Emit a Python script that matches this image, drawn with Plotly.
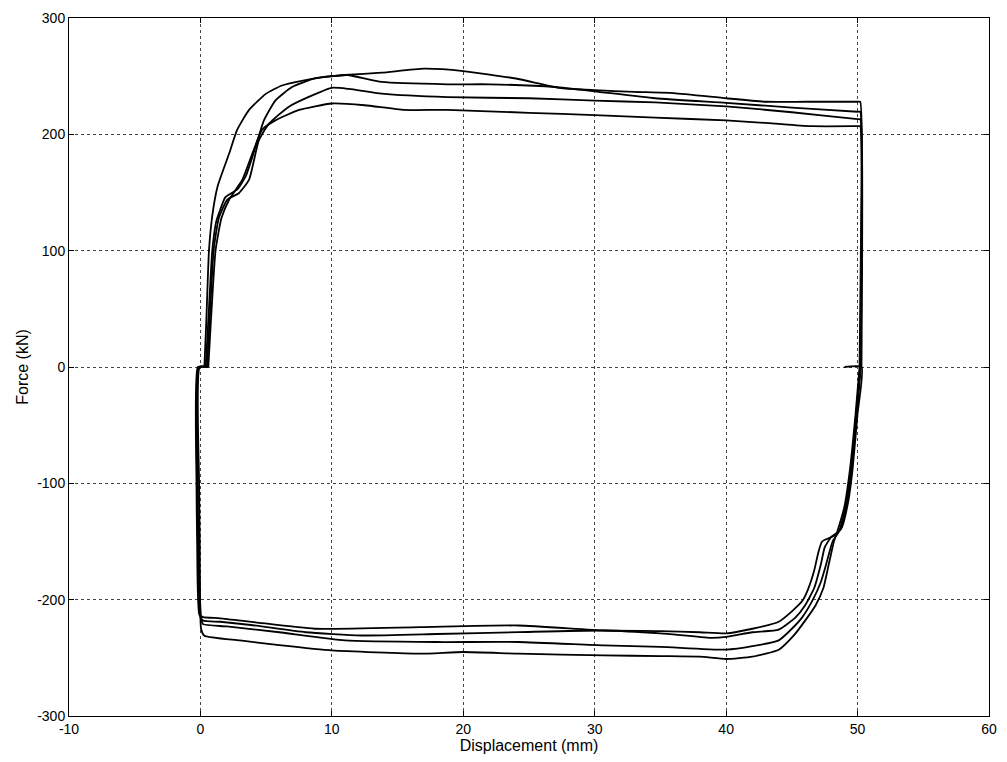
import plotly.graph_objects as go

# Hysteresis loops: four displacement cycles between 0 and 50 mm.
# Loading branches (positive force), ending with the unloading drop at 50 mm.
up1_x = [0.3, 0.45, 0.65, 0.9, 1.3, 2.2, 2.8, 3.7, 5.0, 6.2, 7.7, 9.2, 11.0, 13.8, 17.0, 20.0,
         24.0, 27.3, 30.0, 33.0, 36.0, 40.0, 43.0, 46.0, 50.0, 50.2, 50.35, 50.3]
up1_f = [0, 40, 100, 130, 155, 184, 204, 221, 235, 242, 246, 249, 251, 253, 256.4, 254.4,
         248, 240, 238, 236.5, 235.5, 231, 228, 228, 228, 228, 100, 0]

up2_x = [0.4, 0.6, 0.9, 1.2, 1.5, 1.9, 2.8, 3.45, 4.2, 4.83, 5.7, 6.97, 8.7, 10.0, 11.2, 13.8,
         18.8, 22.0, 27.0, 30.0, 34.6, 40.0, 45.0, 50.0, 50.2, 50.3, 50.25]
up2_f = [0, 40, 100, 125, 135, 146, 152.6, 164, 189.5, 212, 229, 240.7, 248, 250, 251, 245,
         243, 243, 240.7, 237, 231, 227, 223, 219.4, 219.4, 100, 0]

up3_x = [0.5, 0.7, 1.0, 1.4, 2.06, 2.94, 3.7, 4.45, 5.2, 6.7, 8.2, 10.0, 11.3, 13.8, 18.8, 25.0,
         30.0, 34.6, 40.0, 45.0, 50.0, 50.2, 50.3, 50.2]
up3_f = [0, 40, 100, 128, 144, 149.6, 161, 195, 209, 223.6, 232, 240, 239, 235, 232, 231,
         229, 227.4, 224, 219, 213, 213, 100, 0]

up4_x = [0.6, 0.8, 1.15, 1.6, 2.19, 3.19, 4.0, 4.7, 5.7, 7.5, 10.0, 12.5, 15.5, 18.8, 25.0,
         30.0, 34.6, 40.0, 44.0, 46.5, 50.0, 50.2, 50.25, 50.15]
up4_f = [0, 40, 100, 128, 144, 161, 185, 204, 212, 221, 226.5, 225, 221, 221, 218.5,
         216.5, 214.3, 212, 209, 207, 207, 207, 100, 0]

# Reverse-loading branches (negative force), ending with the reversal back to zero force.
lo1_x = [49.0, 50.3, 50.0, 49.6, 49.3, 48.8, 48.2, 47.3, 47.0, 46.7, 46.2, 45.8, 45.0, 44.0,
         42.0, 40.0, 38.0, 35.0, 30.7, 24.2, 16.7, 8.7, 4.2, 1.5, 0.2, -0.08, -0.25, -0.3,
         -0.2, 0.3]
lo1_f = [0, 0, -40, -90, -115, -138, -145, -150, -160, -175, -192, -201, -210, -219,
         -225, -229, -228, -227, -226.5, -222.2, -223.6, -225, -219.5, -216, -215, -213,
         -150, -100, 0, 0]

lo2_x = [50.25, 49.95, 49.5, 49.2, 48.7, 48.0, 47.5, 47.2, 46.7, 46.0, 45.3, 44.0, 42.0, 40.0,
         38.8, 35.0, 30.7, 24.2, 18.0, 12.2, 8.0, 4.0, 1.5, 0.2, 0.0, -0.2, -0.25, -0.15,
         0.4]
lo2_f = [0, -40, -90, -115, -140, -146, -155, -170, -190, -205, -215, -225.7, -228, -232,
         -232.8, -229, -226.5, -227.9, -229.5, -230.8, -228, -222, -219, -218, -215, -150,
         -100, 0, 0]

lo3_x = [50.2, 49.9, 49.5, 49.1, 48.6, 48.1, 47.6, 47.2, 46.6, 45.8, 45.0, 44.0, 42.0, 40.0,
         35.0, 30.7, 24.2, 18.0, 11.0, 6.0, 2.0, 0.2, 0.05, -0.15, -0.2, -0.1, 0.5]
lo3_f = [0, -40, -90, -120, -141, -150, -170, -185, -200, -215, -225, -235, -240, -243,
         -240.5, -239.3, -236.4, -236.4, -235, -228, -223, -221, -216, -150, -100, 0, 0]

lo4_x = [50.15, 49.85, 49.4, 49.0, 48.5, 48.2, 47.8, 47.4, 46.8, 46.2, 45.2, 44.0, 42.0, 40.0,
         38.0, 35.0, 30.7, 24.2, 20.0, 16.7, 10.0, 6.0, 3.0, 0.3, 0.05, -0.05, -0.1, -0.05,
         0.6]
lo4_f = [0, -40, -90, -120, -140, -150, -170, -190, -205, -215, -230, -243, -249, -251,
         -249, -248.5, -247.9, -246.4, -245, -246.4, -243.6, -239, -235, -231, -225, -150,
         -100, 0, 0]

x_ticks = [-10, 0, 10, 20, 30, 40, 50, 60]
x_tick_labels = ["-10", "0", "10", "20", "30", "40", "50", "60"]
y_ticks = [-300, -200, -100, 0, 100, 200, 300]
y_tick_labels = ["-300", "-200", "-100", "0", "100", "200", "300"]

branches = [
    (lo1_x, lo1_f), (up1_x, up1_f),
    (lo2_x, lo2_f), (up2_x, up2_f),
    (lo3_x, lo3_f), (up3_x, up3_f),
    (lo4_x, lo4_f), (up4_x, up4_f),
]

fig = go.Figure()
for bx, bf in branches:
    fig.add_trace(go.Scatter(
        x=bx, y=bf, mode="lines",
        line=dict(color="black", width=1.8, shape="spline", smoothing=0.5),
        showlegend=False, hoverinfo="skip",
    ))

tick_font = dict(family="Liberation Sans, Arial, sans-serif", size=14, color="black")
title_font = dict(family="Liberation Sans, Arial, sans-serif", size=16, color="black")
axis_common = dict(
    showgrid=True, gridcolor="#444444", gridwidth=1, griddash="dot",
    zeroline=False, showline=True, linecolor="black", linewidth=1, mirror="ticks",
    ticks="inside", ticklen=5, tickcolor="black", tickfont=tick_font,
)

fig.update_layout(
    width=1007, height=762,
    margin=dict(l=69, r=10, t=14, b=46),
    paper_bgcolor="white", plot_bgcolor="white",
    font=tick_font,
    xaxis=dict(range=[-10, 60], tickvals=x_ticks, ticktext=x_tick_labels,
               title=dict(text="Displacement (mm)", font=title_font, standoff=4),
               **axis_common),
    yaxis=dict(range=[-300, 300], tickvals=y_ticks, ticktext=y_tick_labels,
               title=dict(text="Force (kN)", font=title_font, standoff=4),
               **axis_common),
)

fig.write_html("out.html")
